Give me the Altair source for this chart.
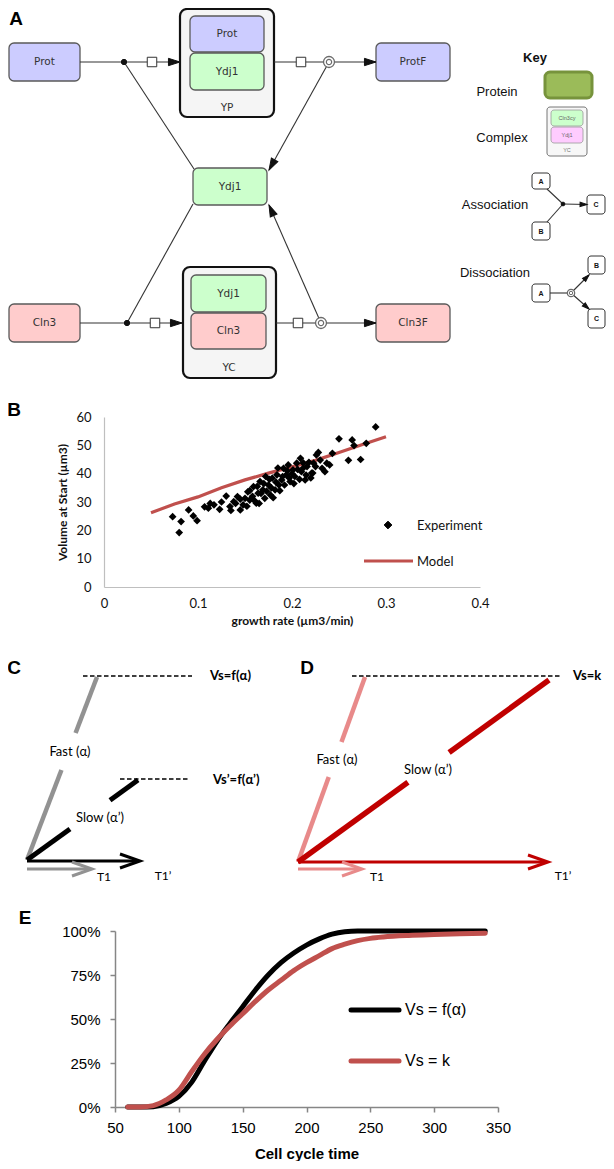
import math
import altair as alt
import pandas as pd

W, H = 598, 1153
M = 8  # page margin: layout coordinates below are page pixels

# ------------------------------------------------------------------ data
# Panel B : experiment scatter and model line
growth_rate = [0.073, 0.080, 0.082, 0.090, 0.095, 0.099, 0.107, 0.113, 0.111, 0.123,
               0.130, 0.134, 0.138, 0.142, 0.145, 0.148, 0.150, 0.153, 0.155, 0.159,
               0.162, 0.164, 0.166, 0.169, 0.171, 0.175, 0.177, 0.179, 0.182, 0.184,
               0.186, 0.189, 0.191, 0.194, 0.196, 0.198, 0.201, 0.203, 0.205, 0.209,
               0.210, 0.214, 0.216, 0.221, 0.223, 0.226, 0.230, 0.232, 0.235, 0.237,
               0.240, 0.243, 0.250, 0.260, 0.264, 0.266, 0.273, 0.279, 0.289,
               0.145, 0.152, 0.158, 0.160, 0.163, 0.167, 0.170, 0.173, 0.176, 0.178,
               0.180, 0.183, 0.187, 0.190, 0.192, 0.195, 0.197, 0.200, 0.202, 0.206,
               0.208, 0.212, 0.215, 0.218, 0.220, 0.225, 0.228, 0.155, 0.165, 0.172,
               0.185, 0.140, 0.135, 0.117, 0.125, 0.212, 0.222]
volume_start = [24.8, 19.2, 23.1, 27.2, 25.1, 23.4, 28.3, 29.5, 27.8, 27.4,
                32.1, 28.4, 30.1, 31.9, 27.2, 29.0, 31.3, 33.6, 30.7, 35.4,
                29.6, 33.1, 37.2, 34.3, 31.3, 36.0, 32.5, 38.4, 34.3, 39.6,
                36.0, 37.8, 41.9, 39.6, 43.1, 37.2, 41.3, 39.0, 43.7, 45.4,
                40.7, 37.8, 42.5, 40.2, 43.7, 46.6, 44.8, 41.9, 40.7, 43.7,
                43.1, 47.2, 52.3, 44.7, 51.9, 49.9, 45.0, 50.7, 56.5,
                31.0, 28.5, 32.0, 30.5, 35.5, 33.0, 36.5, 33.8, 38.0, 35.0,
                31.5, 37.0, 34.0, 39.0, 36.0, 41.0, 38.5, 40.0, 36.5, 41.5,
                38.0, 42.0, 39.5, 44.0, 38.5, 42.5, 47.5, 34.0, 29.5, 39.0,
                42.0, 29.5, 27.0, 29.0, 30.0, 43.8, 40.2]
model_rate = [0.05, 0.075, 0.1, 0.125, 0.15, 0.175, 0.2, 0.225, 0.25, 0.275, 0.3]
model_volume = [26.2, 29.3, 31.8, 35.0, 37.8, 40.2, 42.4, 44.7, 47.5, 50.3, 53.0]
B_series = ["Experiment", "Model"]

# Panel E : cumulative fraction vs cell cycle time
time_f = [60, 70, 80, 90, 100, 110, 120, 130, 140, 150, 160, 170, 180, 190, 200,
          210, 220, 230, 240, 260, 300, 340]
frac_f = [0, 0, 0.002, 0.02, 0.06, 0.14, 0.26, 0.375, 0.475, 0.57, 0.665, 0.75, 0.82,
          0.875, 0.92, 0.955, 0.982, 0.996, 1.0, 1.0, 1.0, 1.0]
time_k = [60, 70, 80, 90, 100, 110, 120, 130, 140, 150, 160, 170, 180, 190, 200,
          210, 220, 230, 240, 250, 260, 280, 300, 320, 340]
frac_k = [0, 0, 0.008, 0.04, 0.095, 0.20, 0.30, 0.385, 0.46, 0.53, 0.60, 0.665, 0.72,
          0.775, 0.82, 0.86, 0.90, 0.925, 0.945, 0.958, 0.966, 0.975, 0.98, 0.984, 0.987]
E_series = ["Vs = f(\u03b1)", "Vs = k"]

# Panel A labels
A_species = ["Prot", "ProtF", "Ydj1", "Cln3", "Cln3F"]
A_complexes = {"YP": ["Prot", "Ydj1"], "YC": ["Ydj1", "Cln3"]}
key_title = "Key"
key_items = ["Protein", "Complex", "Association", "Dissociation"]
key_complex = ("YC", ["Cln3cy", "Ydj1"])
key_nodes = ["A", "B", "C"]

# Panels C / D labels
C_labels = ["Vs=f(\u03b1)", "Vs\u2019=f(\u03b1\u2019)", "Fast (\u03b1)", "Slow (\u03b1\u2019)", "T1", "T1\u2019"]
D_labels = ["Vs=k", "Fast (\u03b1)", "Slow (\u03b1\u2019)", "T1", "T1\u2019"]
panel_letters = ["A", "B", "C", "D", "E"]

# ------------------------------------------------------------------ styles / layout
LAV, GRN, PNK = "#ccccff", "#ccffcc", "#ffcccc"
BOXSTROKE = "#5a5a5a"
LINE = "#333333"
RED_E = "#c0504d"
ARROW = "M0,0L0.7,2.2L-0.7,2.2Z"
CHEV = "M-0.7,2L0,0L0.7,2"

def PX():
    return alt.Scale(domain=[M, M + W], range=[0, W], nice=False, zero=False)

def PY():
    return alt.Scale(domain=[M, M + H], range=[0, H], nice=False, zero=False)

rect_groups = {7: [], 5: [], 3: []}
segs_solid, segs_dash = [], []
pts = []
texts = {}

def box(r, x0, y0, x1, y1, fill, stroke=BOXSTROKE, sw=1.3):
    rect_groups[r].append(dict(x0=x0, y0=y0, x1=x1, y1=y1, fill=fill, stroke=stroke, sw=sw))

def seg(x0, y0, x1, y1, color=LINE, sw=1.1, dash=False):
    (segs_dash if dash else segs_solid).append(dict(x0=x0, y0=y0, x1=x1, y1=y1, color=color, sw=sw))

def split_seg(p0, p1, ta, tb, color, sw):
    def at(t):
        return (p0[0] + (p1[0] - p0[0]) * t, p0[1] + (p1[1] - p0[1]) * t)
    a, b = at(ta), at(tb)
    seg(p0[0], p0[1], a[0], a[1], color, sw)
    seg(b[0], b[1], p1[0], p1[1], color, sw)

def pt(x, y, shape, size, fill, stroke, sw=1.0, angle=0.0):
    pts.append(dict(x=x, y=y, shape=shape, size=size, fill=fill, stroke=stroke, sw=sw, angle=angle))

def head(tip, frm, size, color, shape=ARROW, sw=1.0, filled=True):
    dx, dy = tip[0] - frm[0], tip[1] - frm[1]
    ang = math.degrees(math.atan2(dx, -dy)) % 360
    pt(tip[0], tip[1], shape, size, color if filled else "transparent", color, sw, ang)

def txt(x, y, s, size, color="#000000", font="Liberation Sans", weight="normal", align="center"):
    texts.setdefault((font, weight, align), []).append(dict(x=x, y=y, text=s, size=size, color=color))

# ---- Panel A : reaction network
box(7, 180, 9, 274, 117, "#f5f5f5", "#111111", 2.2)
box(7, 183, 267, 276, 378, "#f5f5f5", "#111111", 2.2)
fills = {"Prot": LAV, "ProtF": LAV, "Ydj1": GRN, "Cln3": PNK, "Cln3F": PNK}
species_pos = {"Prot": (9, 43, 80, 81), "ProtF": (376, 43, 450, 81), "Ydj1": (193, 168, 267, 205),
               "Cln3": (9, 304, 80, 342), "Cln3F": (376, 304, 450, 342)}
for name in A_species:
    x0, y0, x1, y1 = species_pos[name]
    box(5, x0, y0, x1, y1, fills[name])
    txt((x0 + x1) / 2, (y0 + y1) / 2, name, 10.5, "#333333", "DejaVu Sans")
complex_pos = {"YP": [(190, 16, 264, 52), (190, 53, 264, 90)], "YC": [(191, 275, 266, 312), (191, 313, 266, 349)]}
complex_label_pos = {"YP": (227, 108), "YC": (229, 368)}
for cname, parts in A_complexes.items():
    for part, (x0, y0, x1, y1) in zip(parts, complex_pos[cname]):
        box(5, x0, y0, x1, y1, fills[part])
        txt((x0 + x1) / 2, (y0 + y1) / 2, part, 10.5, "#333333", "DejaVu Sans")
    lx, ly = complex_label_pos[cname]
    txt(lx, ly, cname, 10.5, "#333333", "DejaVu Sans")

seg(80, 62, 180, 62); head((180, 62), (124, 62), 110, "#111111")
seg(124, 62, 194, 169)
seg(274, 62, 376, 62); head((376, 62), (329, 62), 110, "#111111")
seg(329, 62, 269, 170); head((269, 170), (329, 62), 110, "#111111")
seg(80, 323, 182, 323); head((182, 323), (127, 323), 110, "#111111")
seg(127, 323, 193, 204)
seg(276, 323, 376, 323); head((376, 323), (321, 323), 110, "#111111")
seg(321, 323, 269, 205); head((269, 205), (321, 323), 110, "#111111")
for (x, y) in [(124, 62), (127, 323)]:
    pt(x, y, "circle", 28, "#111111", "#111111")
for (x, y) in [(152, 62), (301, 62), (155, 323), (298, 323)]:
    pt(x, y, "square", 90, "#ffffff", "#333333", 1.0)
for (x, y) in [(329, 62), (321, 323)]:
    pt(x, y, "circle", 120, "#ffffff", "#6a6a6a", 1.3)
    pt(x, y, "circle", 28, "#ffffff", "#6a6a6a", 1.2)

# ---- Key
txt(535, 58, key_title, 13, "#111111", weight="bold")
key_label_pos = [(497, 92), (502, 138), (495, 205), (495, 273)]
for lab, (x, y) in zip(key_items, key_label_pos):
    txt(x, y, lab, 13, "#111111")
box(5, 545, 72, 592, 98, "#9bbb59", "#77933c", 3)
box(3, 547, 107, 587, 156, "#f7f7f7", "#777777", 1)
box(3, 551, 110, 583, 126, "#ccffcc", "#999999", 0.8)
box(3, 551, 127, 583, 143, "#ffccff", "#999999", 0.8)
txt(567, 118, key_complex[1][0], 5.5, "#666666")
txt(567, 135, key_complex[1][1], 5.5, "#666666")
txt(567, 150, key_complex[0], 5.5, "#777777")
assoc_nodes = [(532, 173, 550, 189), (532, 222, 550, 240), (587, 195, 605, 214)]
dissoc_nodes = [(532, 284, 550, 302), (588, 256, 605, 274), (588, 309, 605, 328)]
seg(547, 189, 563, 204); seg(547, 222, 563, 204); seg(563, 204, 587, 204.5)
head((587, 204.5), (563, 204), 40, "#111111")
pt(563, 204, "circle", 14, "#111111", "#111111")
seg(550, 293, 571, 293); seg(571, 293, 589, 275); seg(571, 293, 589, 309)
head((589, 275), (571, 293), 40, "#111111"); head((589, 309), (571, 293), 40, "#111111")
pt(571, 293, "circle", 55, "#ffffff", "#6a6a6a", 1.2)
pt(571, 293, "circle", 12, "#ffffff", "#6a6a6a", 1.0)
for nodes in (assoc_nodes, dissoc_nodes):
    for lab, (x0, y0, x1, y1) in zip(key_nodes, nodes):
        box(3, x0, y0, x1, y1, "#ffffff", "#333333", 1.0)
        txt((x0 + x1) / 2, (y0 + y1) / 2 + 0.5, lab, 7, "#111111", weight="bold")

# ---- Panel C
seg(83, 676, 192, 676, "#000000", 1.6, dash=True)
txt(210, 676, C_labels[0], 13, "#000000", "Lato", "bold", "left")
split_seg((27, 860), (97, 677), 0.492, 0.694, "#929292", 4.5)
txt(70, 752, C_labels[2], 13, "#000000", "Lato")
seg(120, 779, 190, 779, "#000000", 1.6, dash=True)
txt(213, 780, C_labels[1], 13, "#000000", "Lato", "bold", "left")
split_seg((27, 860), (138, 780), 0.387, 0.748, "#000000", 5)
txt(100, 818, C_labels[3], 13, "#000000", "Lato")
seg(27, 869, 91, 869, "#929292", 3); head((92, 869), (27, 869), 400, "#929292", CHEV, 3, False)
seg(27, 861, 139, 861, "#000000", 3); head((140, 861), (27, 861), 400, "#000000", CHEV, 3, False)
txt(104, 877, C_labels[4], 12, "#000000", "Lato")
txt(163, 876, C_labels[5], 12, "#000000", "Lato")

# ---- Panel D
seg(352, 676, 562, 676, "#000000", 1.6, dash=True)
txt(573, 676, D_labels[0], 13, "#000000", "Lato", "bold", "left")
split_seg((298, 862), (365, 677), 0.459, 0.649, "#e88a8a", 4.5)
txt(337, 760, D_labels[1], 13, "#000000", "Lato")
split_seg((298, 862), (549, 680), 0.438, 0.602, "#c00000", 5.5)
txt(428, 770, D_labels[2], 13, "#000000", "Lato")
seg(298, 869, 361, 869, "#e88a8a", 3); head((362, 869), (298, 869), 400, "#e88a8a", CHEV, 3, False)
seg(298, 862, 547, 862, "#c00000", 3); head((548, 862), (298, 862), 400, "#c00000", CHEV, 3, False)
txt(377, 877, D_labels[3], 12, "#000000", "Lato")
txt(563, 876, D_labels[4], 12, "#000000", "Lato")

# ---- legends for B and E
pt(388, 525, "diamond", 60, "#000000", "#000000")
txt(417, 526, B_series[0], 13, "#111111", "Lato", align="left")
seg(364, 561, 413, 561, RED_E, 3.2)
txt(417, 562, B_series[1], 13, "#111111", "Lato", align="left")
segs_legendE = [dict(x0=351, y0=1010, x1=399, y1=1010, color="#000000", sw=5),
                dict(x0=351, y0=1061, x1=399, y1=1061, color=RED_E, sw=5)]
txt(405, 1010, E_series[0], 16, "#000000", align="left")
txt(405, 1061, E_series[1], 16, "#000000", align="left")

# ---- panel letters
letter_pos = [(16, 19), (14, 410), (14, 668), (307, 668), (25, 918)]
for lab, (x, y) in zip(panel_letters, letter_pos):
    txt(x, y, lab, 19, "#000000", "Liberation Sans", "bold")

# ------------------------------------------------------------------ layers
layers = []

def rect_layer(rows, r):
    return alt.Chart(pd.DataFrame(rows)).mark_rect(cornerRadius=r).encode(
        x=alt.X("x0:Q", scale=PX(), axis=None), x2="x1:Q",
        y=alt.Y("y0:Q", scale=PY(), axis=None), y2="y1:Q",
        fill=alt.Fill("fill:N", scale=None),
        stroke=alt.Stroke("stroke:N", scale=None),
        strokeWidth=alt.StrokeWidth("sw:Q", scale=None))

def seg_layer(rows, dash=None, cap="butt"):
    kw = dict(strokeCap=cap)
    if dash:
        kw["strokeDash"] = dash
    return alt.Chart(pd.DataFrame(rows)).mark_rule(**kw).encode(
        x=alt.X("x0:Q", scale=PX(), axis=None), x2="x1:Q",
        y=alt.Y("y0:Q", scale=PY(), axis=None), y2="y1:Q",
        color=alt.Color("color:N", scale=None),
        strokeWidth=alt.StrokeWidth("sw:Q", scale=None))

for r in (7, 5, 3):
    layers.append(rect_layer(rect_groups[r], r))
layers.append(seg_layer(segs_solid))
layers.append(seg_layer(segs_dash, dash=[4.5, 2.5]))
layers.append(seg_layer(segs_legendE, cap="round"))
layers.append(alt.Chart(pd.DataFrame(pts)).mark_point(opacity=1, fillOpacity=1, strokeOpacity=1).encode(
    x=alt.X("x:Q", scale=PX(), axis=None),
    y=alt.Y("y:Q", scale=PY(), axis=None),
    shape=alt.Shape("shape:N", scale=None),
    size=alt.Size("size:Q", scale=None),
    fill=alt.Fill("fill:N", scale=None),
    stroke=alt.Stroke("stroke:N", scale=None),
    strokeWidth=alt.StrokeWidth("sw:Q", scale=None),
    angle=alt.Angle("angle:Q", scale=None)))
for (font, weight, align), rows in texts.items():
    layers.append(alt.Chart(pd.DataFrame(rows)).mark_text(
        font=font, fontWeight=weight, align=align, baseline="middle").encode(
        x=alt.X("x:Q", scale=PX(), axis=None),
        y=alt.Y("y:Q", scale=PY(), axis=None),
        text="text:N",
        size=alt.Size("size:Q", scale=None),
        color=alt.Color("color:N", scale=None)))

# ---- Panel B chart
xB = alt.Scale(domain=[0, 0.4], range=[104 - M, 480 - M], nice=False, zero=False)
yB = alt.Scale(domain=[0, 60], range=[587 - M, 417 - M], nice=False, zero=False)
axis_xB = alt.Axis(orient="bottom", offset=(587 - M) - H, values=[0, 0.1, 0.2, 0.3, 0.4],
                   format=".1~f", grid=False, ticks=False, domainColor="#bfbfbf", domainWidth=1.2,
                   labelFont="Lato", labelFontSize=13, labelColor="#111111", labelPadding=10,
                   labelFlush=False, title="growth rate (\u00b5m3/min)", titleFont="Lato",
                   titleFontSize=12, titleFontWeight="bold", titleColor="#111111",
                   titleY=33, titleBaseline="middle")
axis_yB = alt.Axis(orient="left", offset=-(104 - M), values=[0, 10, 20, 30, 40, 50, 60],
                   grid=False, ticks=False, domainColor="#bfbfbf", domainWidth=1.2,
                   labelFont="Lato", labelFontSize=13, labelColor="#111111", labelPadding=13,
                   title="Volume at Start (\u00b5m3)", titleFont="Lato", titleFontSize=12,
                   titleFontWeight="bold", titleColor="#111111", titleX=-42,
                   titleY=((587 - M) + (417 - M)) / 2, titleBaseline="middle")
dfB = pd.DataFrame({"rate": growth_rate, "vol": volume_start})
dfM = pd.DataFrame({"rate": model_rate, "vol": model_volume})
layers.append(alt.Chart(dfM).mark_line(color=RED_E, strokeWidth=3.2).encode(
    x=alt.X("rate:Q", scale=xB, axis=None), y=alt.Y("vol:Q", scale=yB, axis=None)))
layers.append(alt.Chart(dfB).mark_point(shape="diamond", filled=True, color="#000000",
                                         size=60, opacity=1).encode(
    x=alt.X("rate:Q", scale=xB, axis=axis_xB), y=alt.Y("vol:Q", scale=yB, axis=axis_yB)))

# ---- Panel E chart
xE = alt.Scale(domain=[50, 350], range=[115 - M, 498 - M], nice=False, zero=False)
yE = alt.Scale(domain=[0, 1], range=[1107 - M, 931 - M], nice=False, zero=False)
axis_xE = alt.Axis(orient="bottom", offset=(1107 - M) - H, values=[50, 100, 150, 200, 250, 300, 350],
                   format="d", grid=False, ticks=True, tickSize=5, tickColor="#868686", tickWidth=1.5,
                   domainColor="#868686", domainWidth=1.5, labelFont="Liberation Sans",
                   labelFontSize=15, labelColor="#000000", labelPadding=8, labelFlush=False,
                   title="Cell cycle time", titleFont="Liberation Sans", titleFontSize=15,
                   titleFontWeight="bold", titleColor="#000000", titleY=46, titleBaseline="middle")
axis_yE = alt.Axis(orient="left", offset=-(115 - M), values=[0, 0.25, 0.5, 0.75, 1], format=".0%",
                   grid=False, ticks=True, tickSize=5, tickColor="#868686", tickWidth=1.5,
                   domainColor="#868686", domainWidth=1.5, labelFont="Liberation Sans",
                   labelFontSize=15, labelColor="#000000", labelPadding=10, title=None)
dfE = pd.DataFrame({"t": time_f + time_k, "v": frac_f + frac_k,
                    "s": [E_series[0]] * len(time_f) + [E_series[1]] * len(time_k)})
layers.append(alt.Chart(dfE).mark_line(strokeWidth=5, interpolate="monotone", strokeCap="round").encode(
    x=alt.X("t:Q", scale=xE, axis=axis_xE),
    y=alt.Y("v:Q", scale=yE, axis=axis_yE),
    color=alt.Color("s:N", scale=alt.Scale(domain=E_series, range=["#000000", RED_E]), legend=None),
    detail="s:N"))

chart = alt.layer(*layers).resolve_scale(x="independent", y="independent").resolve_axis(
    x="independent", y="independent").properties(
    width=W, height=H, autosize=alt.AutoSizeParams(type="none"), padding=0,
    background="#ffffff").configure_view(stroke=None)

chart.save("out.html", embed_options={"renderer": "svg", "actions": False})
